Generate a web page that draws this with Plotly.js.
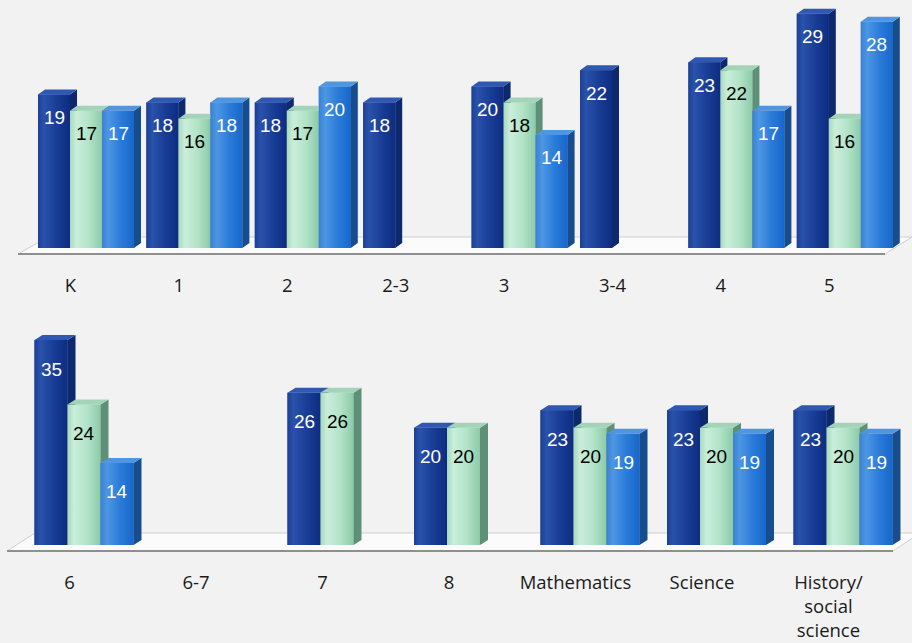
<!DOCTYPE html>
<html>
<head>
<meta charset="utf-8">
<script src="https://cdn.plot.ly/plotly-3.0.1.min.js"></script>
<style>
  html, body { margin: 0; padding: 0; background: #f2f2f2; }
  #chart { width: 912px; height: 643px; }
</style>
</head>
<body>
<div id="chart"></div>
<script>
// Grade levels shown in the upper row
const gradesTop = ['K', '1', '2', '2-3', '3', '3-4', '4', '5'];
const seriesATop = [19, 18, 18, 18, 20, 22, 23, 29];
const seriesBTop = [17, 16, 17, null, 18, null, 22, 16];
const seriesCTop = [17, 18, 20, null, 14, null, 17, 28];

// Grade levels and subjects shown in the lower row
const gradesBottom = ['6', '6-7', '7', '8', 'Mathematics', 'Science', 'History/<br>social<br>science'];
const seriesABottom = [35, null, 26, 20, 23, 23, 23];
const seriesBBottom = [24, null, 26, 20, 20, 20, 20];
const seriesCBottom = [14, null, null, null, 19, 19, 19];

// Styling per series: front face, side face, top cap, label colour
const styles = [
  { base: '#1a3f99', side: '#0b296c', cap: '#2f58b2', text: '#ffffff',
    grad: [[0, '#1b3f97'], [0.18, '#2a52aa'], [0.55, '#1a3f98'], [1, '#0c2c80']] },
  { base: '#b3e3c8', side: '#5e8f77', cap: '#a3d3b8', text: '#000000',
    grad: [[0, '#a6d9bd'], [0.2, '#c9eeda'], [0.6, '#b2e3c8'], [1, '#8ccaa9']] },
  { base: '#2a7ad9', side: '#174d8c', cap: '#4f95e0', text: '#ffffff',
    grad: [[0, '#3a80d4'], [0.2, '#4d96e3'], [0.6, '#2a7bd9'], [1, '#1767cb']] }
];

const W = 912, H = 643;
const traces = [];
const annotations = [];

function buildPanel(cats, seriesList, cfg) {
  const w = cfg.barPx / cfg.pxX;          // front-face width in category units
  const dxU = cfg.depthX / cfg.pxX;       // 3D depth, horizontal
  const dyU = cfg.depthY / cfg.pxY;       // 3D depth, vertical
  const idx = cats.map((_, i) => i);

  // Plain bar traces for the front faces
  seriesList.forEach((vals, s) => {
    traces.push({
      type: 'bar', x: idx, y: vals, xaxis: cfg.xa, yaxis: cfg.ya,
      offset: -1.5 * w + s * w, width: w,
      marker: { color: styles[s].base, line: { width: 0 } },
      hoverinfo: 'skip', showlegend: false
    });
  });

  // Shaded faces drawn series by series so nearer bars hide the sides behind them
  seriesList.forEach((vals, s) => {
    const sx = [], sy = [], cx = [], cy = [];
    vals.forEach((v, i) => {
      if (v === null) return;
      const l = i - 1.5 * w + s * w, r = l + w;
      traces.push({
        type: 'scatter', mode: 'none', xaxis: cfg.xa, yaxis: cfg.ya,
        x: [l, r, r, l, l], y: [0, 0, v, v, 0], fill: 'toself',
        fillgradient: { type: 'horizontal', colorscale: styles[s].grad },
        hoverinfo: 'skip', showlegend: false
      });
      sx.push(r, r + dxU, r + dxU, r, r, null);
      sy.push(0, dyU, v + dyU, v, 0, null);
      cx.push(l, l + dxU, r + dxU, r, l, null);
      cy.push(v, v + dyU, v + dyU, v, v, null);
      annotations.push({
        xref: cfg.xa, yref: cfg.ya, x: l + w / 2, y: v, yshift: cfg.labelShift,
        text: String(v), showarrow: false,
        font: { family: 'Liberation Sans, Arial, sans-serif', size: 19, color: styles[s].text }
      });
    });
    traces.push({
      type: 'scatter', mode: 'none', xaxis: cfg.xa, yaxis: cfg.ya,
      x: sx, y: sy, fill: 'toself', fillcolor: styles[s].side,
      hoverinfo: 'skip', showlegend: false
    });
    traces.push({
      type: 'scatter', mode: 'none', xaxis: cfg.xa, yaxis: cfg.ya,
      x: cx, y: cy, fill: 'toself', fillcolor: styles[s].cap,
      hoverinfo: 'skip', showlegend: false
    });
  });

  return idx.map(i => i + cfg.tickOffset);
}

const topCfg = { xa: 'x', ya: 'y', pxX: 108.4, pxY: 8.08, barPx: 32, depthX: 7, depthY: 5,
                 labelShift: -23, tickOffset: -0.143, centerPx: 86, basePx: 248 };
const botCfg = { xa: 'x2', ya: 'y2', pxX: 126.5, pxY: 5.857, barPx: 33, depthX: 8, depthY: 5,
                 labelShift: -29, tickOffset: -0.115, centerPx: 84, basePx: 545 };

const tickTop = buildPanel(gradesTop, [seriesATop, seriesBTop, seriesCTop], topCfg);
const tickBot = buildPanel(gradesBottom, [seriesABottom, seriesBBottom, seriesCBottom], botCfg);

function xRange(cfg) {
  const r0 = -cfg.centerPx / cfg.pxX;
  return [r0, r0 + W / cfg.pxX];
}

// Floor slab under each row of bars (pixel geometry converted to paper units)
function floorShapes(front, back, fl, bl, fr, br) {
  const px = x => x / W, py = y => 1 - y / H;
  return [
    { type: 'path', xref: 'paper', yref: 'paper', layer: 'below',
      path: `M ${px(fl)} ${py(front)} L ${px(bl)} ${py(back)} L ${px(br)} ${py(back)} L ${px(fr)} ${py(front)} Z`,
      fillcolor: '#fbfbfb', line: { color: '#cfcfcf', width: 1 } },
    { type: 'line', xref: 'paper', yref: 'paper', layer: 'below',
      x0: px(fl), x1: px(fr), y0: py(front), y1: py(front),
      line: { color: '#8f8f8f', width: 2 } }
  ];
}

const axisX = {
  showgrid: false, zeroline: false, showline: false,
  ticks: 'outside', ticklen: 21, tickcolor: 'rgba(0,0,0,0)', tickmode: 'array',
  tickfont: { family: 'Open Sans, Noto Sans, sans-serif', size: 18.5, color: '#1a1a1a' },
  fixedrange: true
};
const axisY = { showgrid: false, zeroline: false, showline: false, showticklabels: false, ticks: '', fixedrange: true };

const layout = {
  width: W, height: H,
  margin: { l: 0, r: 0, t: 0, b: 0 },
  paper_bgcolor: '#f2f2f2', plot_bgcolor: 'rgba(0,0,0,0)',
  barmode: 'overlay', showlegend: false,
  xaxis: Object.assign({}, axisX, { domain: [0, 1], range: xRange(topCfg), anchor: 'y',
                                    tickvals: tickTop, ticktext: gradesTop }),
  yaxis: Object.assign({}, axisY, { domain: [1 - topCfg.basePx / H, 1], anchor: 'x',
                                    range: [0, topCfg.basePx / topCfg.pxY] }),
  xaxis2: Object.assign({}, axisX, { domain: [0, 1], range: xRange(botCfg), anchor: 'y2',
                                     tickvals: tickBot, ticktext: gradesBottom }),
  yaxis2: Object.assign({}, axisY, { domain: [1 - botCfg.basePx / H, 1 - 290 / H], anchor: 'x2',
                                     range: [0, (botCfg.basePx - 290) / botCfg.pxY] }),
  shapes: [].concat(
    floorShapes(254, 237, 18, 48, 885, 912),
    floorShapes(551, 533, 7, 35, 893, 920)
  ),
  annotations: annotations
};

Plotly.newPlot('chart', traces, layout, { displayModeBar: false, staticPlot: true });
</script>
</body>
</html>
